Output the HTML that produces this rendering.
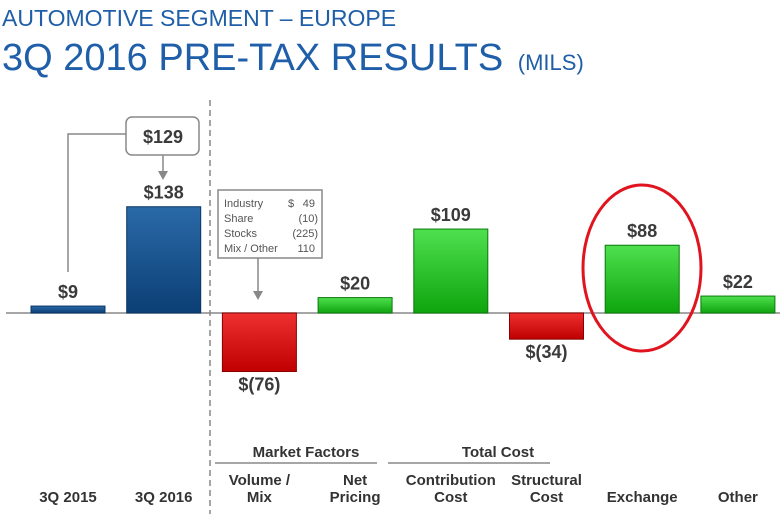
<!DOCTYPE html>
<html><head><meta charset="utf-8"><style>
body{margin:0;background:#fff;}
svg{display:block;font-family:"Liberation Sans",sans-serif;}
</style></head><body>
<svg id="chart" width="780" height="514" viewBox="0 0 780 514">
<defs>
<linearGradient id="gb" x1="0" y1="0" x2="0" y2="1"><stop offset="0" stop-color="#2a6aa8"/><stop offset="1" stop-color="#0b3f75"/></linearGradient>
<linearGradient id="gg" x1="0" y1="0" x2="0" y2="1"><stop offset="0" stop-color="#4fe04f"/><stop offset="1" stop-color="#0ea50e"/></linearGradient>
<linearGradient id="gr" x1="0" y1="0" x2="0" y2="1"><stop offset="0" stop-color="#ee3030"/><stop offset="1" stop-color="#c00000"/></linearGradient>
</defs>
<text x="2" y="26" font-size="23" fill="#1f5ea8">AUTOMOTIVE SEGMENT – EUROPE</text>
<text x="2" y="70" font-size="38" fill="#1f5ea8">3Q 2016 PRE-TAX RESULTS <tspan font-size="22" dx="4">(MILS)</tspan></text>
<line x1="210" y1="100" x2="210" y2="514" stroke="#888" stroke-width="1.5" stroke-dasharray="6,4"/>
<line x1="6" y1="313" x2="780" y2="313" stroke="#888" stroke-width="1.5"/>
<g id="bars"></g>
<g>
<polyline points="68,272 68,134 126,134" fill="none" stroke="#888" stroke-width="1.5"/>
<rect x="126" y="117" width="73" height="38" rx="6" fill="#fff" stroke="#888" stroke-width="1.5"/>
<text x="163" y="143" font-size="18" font-weight="bold" fill="#3a3a3a" text-anchor="middle">$129</text>
<line x1="163" y1="155" x2="163" y2="172" stroke="#888" stroke-width="1.5"/>
<polygon points="158,171 168,171 163,180" fill="#888"/>
</g>
<g font-size="11" fill="#555">
<rect x="218" y="190" width="104" height="68" fill="#fff" stroke="#888" stroke-width="1.5"/>
<text x="224" y="207">Industry</text><text x="288" y="207">$</text><text x="315" y="207" text-anchor="end">49</text>
<text x="224" y="222">Share</text><text x="318" y="222" text-anchor="end">(10)</text>
<text x="224" y="237">Stocks</text><text x="318" y="237" text-anchor="end">(225)</text>
<text x="224" y="252">Mix / Other</text><text x="315" y="252" text-anchor="end">110</text>
<line x1="258" y1="258" x2="258" y2="292" stroke="#888" stroke-width="1.5"/>
<polygon points="253,291 263,291 258,300" fill="#888"/>
</g>
<ellipse cx="642" cy="268" rx="59" ry="83" fill="none" stroke="#e0141e" stroke-width="3"/>
<g font-size="15" font-weight="bold" fill="#333" text-anchor="middle">
<text x="306" y="457">Market Factors</text>
<line x1="215" y1="463" x2="377" y2="463" stroke="#888" stroke-width="1.5"/>
<text x="498" y="457">Total Cost</text>
<line x1="388" y1="463" x2="550" y2="463" stroke="#888" stroke-width="1.5"/>
</g>
<g id="cats" font-size="15" font-weight="bold" fill="#333" text-anchor="middle"></g>
</svg>
<script>
const categories = [["3Q 2015"],["3Q 2016"],["Volume /","Mix"],["Net","Pricing"],["Contribution","Cost"],["Structural","Cost"],["Exchange"],["Other"]];
const values = [9,138,-76,20,109,-34,88,22];
const valueLabels = ["$9","$138","$(76)","$20","$109","$(34)","$88","$22"];
const barKinds = ["total","total","delta","delta","delta","delta","delta","delta"];
const ns="http://www.w3.org/2000/svg";
const y0=313, k=0.77;
function yScale(v){return y0 - v*k;}
function xCenter(i){return 68 + i*95.7;}
const bw=74;
const bars=document.getElementById('bars'), cats=document.getElementById('cats');
values.forEach((v,i)=>{
  const cx=xCenter(i), yt=Math.min(yScale(v),y0), h=Math.abs(yScale(v)-y0);
  const fill = barKinds[i]==="total" ? "url(#gb)" : (v<0 ? "url(#gr)" : "url(#gg)");
  const stroke = barKinds[i]==="total" ? "#0a3563" : (v<0 ? "#8a0000" : "#0a7a0a");
  const r=document.createElementNS(ns,'rect');
  
  
  r.setAttribute('x',cx-bw/2); r.setAttribute('y',yt); r.setAttribute('width',bw); r.setAttribute('height',h);
  r.setAttribute('fill',fill); r.setAttribute('stroke',stroke); r.setAttribute('stroke-width','1');
  bars.appendChild(r);
  const t=document.createElementNS(ns,'text');
  
  
  t.setAttribute('x',cx); t.setAttribute('y', v<0 ? yScale(v)+19 : yScale(v)-8);
  t.setAttribute('font-size','18'); t.setAttribute('font-weight','bold'); t.setAttribute('fill','#3a3a3a'); t.setAttribute('text-anchor','middle');
  t.textContent=valueLabels[i];
  bars.appendChild(t);
  const lines=categories[i];
  lines.forEach((s,j)=>{
    const c=document.createElementNS(ns,'text');
    
    
    c.setAttribute('x',cx); c.setAttribute('y', 502 - (lines.length-1-j)*17);
    c.textContent=s;
    cats.appendChild(c);
  });
});
</script>
</body></html>
